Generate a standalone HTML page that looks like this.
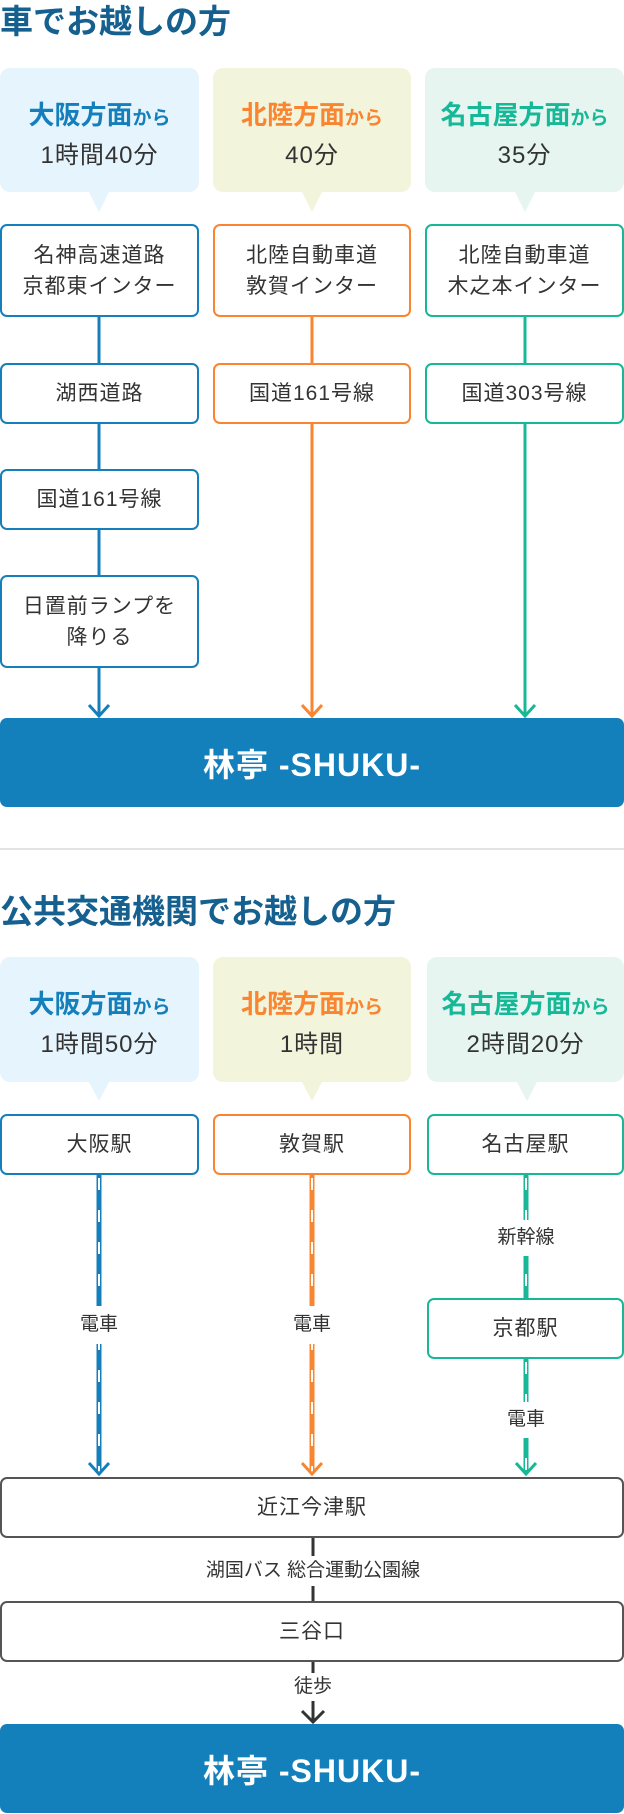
<!DOCTYPE html>
<html><head><meta charset="utf-8">
<style>
*{margin:0;padding:0;box-sizing:border-box}
body{width:624px;height:1814px;background:#fff;position:relative;overflow:hidden;font-family:"Liberation Sans","Noto Sans CJK JP",sans-serif;color:#333}
.a{position:absolute}
.t{position:absolute;left:0;font-size:33px;font-weight:bold;color:#15608f;letter-spacing:0;line-height:44px}
.bub{position:absolute;border-radius:10px;text-align:center}
.bub .h{font-size:26px;font-weight:bold;line-height:30px}
.bub .h small{font-size:19px}
.bub .m{font-size:24px;line-height:30px;margin-top:7px;letter-spacing:1px}
.box{position:absolute;border:2px solid;border-radius:7px;background:#fff;display:flex;align-items:center;justify-content:center;text-align:center;font-size:21px;line-height:31px;letter-spacing:1px}
.b1{border-color:#157fbb}.b2{border-color:#f98530}.b3{border-color:#17b897}.bk{border-color:#555}
.ban{position:absolute;left:0;width:624px;background:#1480bb;border-radius:7px;color:#fff;font-size:32px;font-weight:bold;display:flex;align-items:center;justify-content:center;letter-spacing:1px}
.lab{position:absolute;background:#fff;font-size:19px;text-align:center;line-height:26px}
</style></head><body>
<svg class="a" style="left:0;top:0" width="624" height="1814">
<g stroke-width="3" fill="none">
<g stroke="#157fbb"><line x1="99" y1="317" x2="99" y2="716"/><polyline points="89,705 99,716 109,705"/></g>
<g stroke="#f98530"><line x1="312" y1="317" x2="312" y2="716"/><polyline points="302,705 312,716 322,705"/></g>
<g stroke="#17b897"><line x1="525" y1="317" x2="525" y2="716"/><polyline points="515,705 525,716 535,705"/></g>
</g>
<g fill="none">
<line x1="99" y1="1175" x2="99" y2="1472" stroke="#157fbb" stroke-width="5"/>
<line x1="99" y1="1178" x2="99" y2="1472" stroke="#fff" stroke-width="2" stroke-dasharray="12 20"/>
<line x1="312" y1="1175" x2="312" y2="1472" stroke="#f98530" stroke-width="5"/>
<line x1="312" y1="1178" x2="312" y2="1472" stroke="#fff" stroke-width="2" stroke-dasharray="12 20"/>
<line x1="526" y1="1175" x2="526" y2="1298" stroke="#17b897" stroke-width="5"/>
<line x1="526" y1="1178" x2="526" y2="1298" stroke="#fff" stroke-width="2" stroke-dasharray="12 20"/>
<line x1="526" y1="1359" x2="526" y2="1472" stroke="#17b897" stroke-width="5"/>
<line x1="526" y1="1362" x2="526" y2="1472" stroke="#fff" stroke-width="2" stroke-dasharray="12 20"/>
<polyline points="89,1463 99,1474 109,1463" stroke="#157fbb" stroke-width="3"/>
<polyline points="302,1463 312,1474 322,1463" stroke="#f98530" stroke-width="3"/>
<polyline points="516,1463 526,1474 536,1463" stroke="#17b897" stroke-width="3"/>
<line x1="313" y1="1537" x2="313" y2="1601" stroke="#333" stroke-width="3"/>
<line x1="313" y1="1661" x2="313" y2="1722" stroke="#333" stroke-width="3"/>
<polyline points="302,1711 313,1722 324,1711" stroke="#333" stroke-width="3"/>
</g>
<polygon points="89,192 109,192 99,212" fill="#e6f4fd"/>
<polygon points="302,192 322,192 312,212" fill="#f3f4dc"/>
<polygon points="515,192 535,192 525,212" fill="#e6f5f0"/>
<polygon points="89,1082 109,1082 99,1101" fill="#e6f4fd"/>
<polygon points="302,1082 322,1082 312,1101" fill="#f3f4dc"/>
<polygon points="517,1082 537,1082 527,1101" fill="#e6f5f0"/>
<line x1="0" y1="849" x2="624" y2="849" stroke="#e3e3e3" stroke-width="2"/>
</svg>

<div class="t" style="top:0">車でお越しの方</div>

<div class="bub" style="left:0;top:68px;width:199px;height:124px;background:#e6f4fd;padding-top:32px"><div class="h" style="color:#157fbb">大阪方面<small>から</small></div><div class="m">1時間40分</div></div>
<div class="bub" style="left:213px;top:68px;width:198px;height:124px;background:#f3f4dc;padding-top:32px"><div class="h" style="color:#f98530">北陸方面<small>から</small></div><div class="m">40分</div></div>
<div class="bub" style="left:425px;top:68px;width:199px;height:124px;background:#e6f5f0;padding-top:32px"><div class="h" style="color:#17b897">名古屋方面<small>から</small></div><div class="m">35分</div></div>

<div class="box b1" style="left:0;top:224px;width:199px;height:93px">名神高速道路<br>京都東インター</div>
<div class="box b2" style="left:213px;top:224px;width:198px;height:93px">北陸自動車道<br>敦賀インター</div>
<div class="box b3" style="left:425px;top:224px;width:199px;height:93px">北陸自動車道<br>木之本インター</div>
<div class="box b1" style="left:0;top:363px;width:199px;height:61px">湖西道路</div>
<div class="box b2" style="left:213px;top:363px;width:198px;height:61px">国道161号線</div>
<div class="box b3" style="left:425px;top:363px;width:199px;height:61px">国道303号線</div>
<div class="box b1" style="left:0;top:469px;width:199px;height:61px">国道161号線</div>
<div class="box b1" style="left:0;top:575px;width:199px;height:93px">日置前ランプを<br>降りる</div>

<div class="ban" style="top:718px;height:89px">林亭 -SHUKU-</div>

<div class="t" style="top:890px">公共交通機関でお越しの方</div>

<div class="bub" style="left:0;top:957px;width:199px;height:125px;background:#e6f4fd;padding-top:32px"><div class="h" style="color:#157fbb">大阪方面<small>から</small></div><div class="m">1時間50分</div></div>
<div class="bub" style="left:213px;top:957px;width:198px;height:125px;background:#f3f4dc;padding-top:32px"><div class="h" style="color:#f98530">北陸方面<small>から</small></div><div class="m">1時間</div></div>
<div class="bub" style="left:427px;top:957px;width:197px;height:125px;background:#e6f5f0;padding-top:32px"><div class="h" style="color:#17b897">名古屋方面<small>から</small></div><div class="m">2時間20分</div></div>

<div class="box b1" style="left:0;top:1114px;width:199px;height:61px">大阪駅</div>
<div class="box b2" style="left:213px;top:1114px;width:198px;height:61px">敦賀駅</div>
<div class="box b3" style="left:427px;top:1114px;width:197px;height:61px">名古屋駅</div>
<div class="box b3" style="left:427px;top:1298px;width:197px;height:61px">京都駅</div>

<div class="lab" style="left:74px;top:1306px;width:50px;height:38px;line-height:38px">電車</div>
<div class="lab" style="left:287px;top:1306px;width:50px;height:38px;line-height:38px">電車</div>
<div class="lab" style="left:496px;top:1220px;width:60px;height:36px;line-height:36px">新幹線</div>
<div class="lab" style="left:501px;top:1402px;width:50px;height:36px;line-height:36px">電車</div>

<div class="box bk" style="left:0;top:1477px;width:624px;height:61px">近江今津駅</div>
<div class="lab" style="left:180px;top:1556px;width:266px;height:30px;line-height:30px">湖国バス 総合運動公園線</div>
<div class="box bk" style="left:0;top:1601px;width:624px;height:61px">三谷口</div>
<div class="lab" style="left:288px;top:1673px;width:50px;height:28px;line-height:28px">徒歩</div>

<div class="ban" style="top:1724px;height:89px">林亭 -SHUKU-</div>
</body></html>
